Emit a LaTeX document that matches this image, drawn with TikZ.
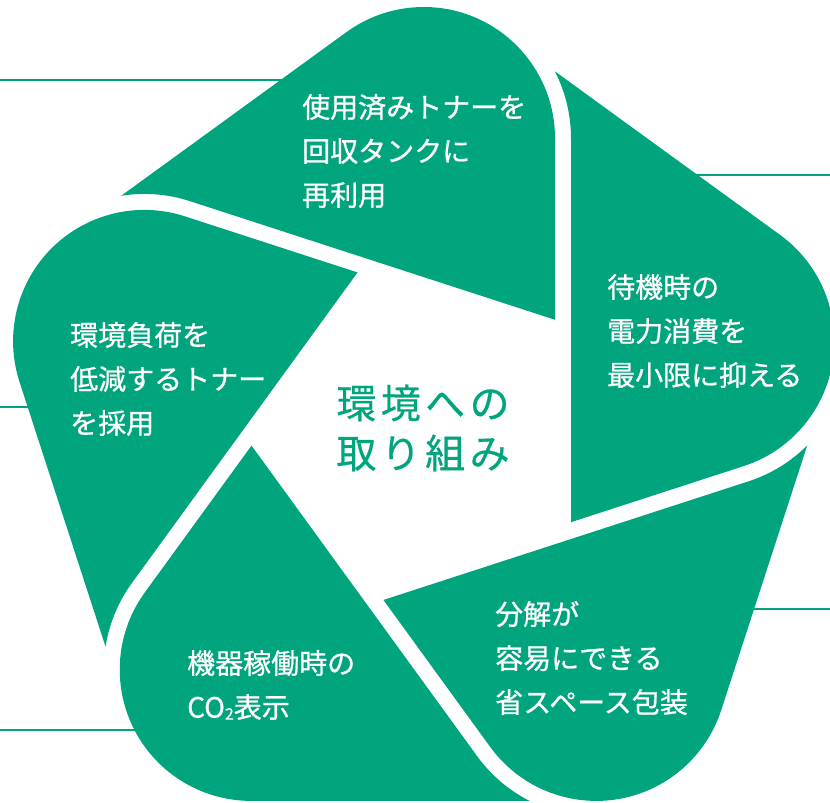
\documentclass[tikz,border=0pt]{standalone}
\usepackage{fontspec}
\setmainfont{Noto Sans CJK JP}
\definecolor{eco}{RGB}{0,165,125}
\begin{document}
\begin{tikzpicture}[x=1pt,y=1pt,
  petal/.style={fill=eco,draw=none},
  leader/.style={draw=eco,line width=2pt},
  petaltext/.style={text=white,align=left,anchor=west,inner sep=0pt,font=\fontsize{28pt}{44pt}\selectfont\addfontfeatures{FakeBold=0.8}},
  centertext/.style={text=eco,align=center,inner sep=0pt,font=\fontsize{40pt}{50pt}\selectfont\addfontfeatures{LetterSpace=11,FakeBold=0.5}}]
\useasboundingbox (-423.7,-371) rectangle (406.3,432);
% leader lines (behind the petals)
\coordinate (a0) at (-423.7,352); \coordinate (a1) at (-110,352);
\coordinate (b0) at (406.3,257);  \coordinate (b1) at (240,257);
\coordinate (c0) at (-423.7,25);  \coordinate (c1) at (-370,25);
\coordinate (d0) at (-423.7,-298); \coordinate (d1) at (-250,-298);
\coordinate (e0) at (406.3,-177); \coordinate (e1) at (296,-177);
\draw[leader] (a0) -- (a1);
\draw[leader] (b0) -- (b1);
\draw[leader] (c0) -- (c1);
\draw[leader] (d0) -- (d1);
\draw[leader] (e0) -- (e1);
% five blades
\foreach \k in {0,1,2,3,4}{
  \begin{scope}[rotate=72*\k]
    \fill[petal] (131.3,112.22) -- (131.3,293.7)
      arc[start angle=0,end angle=126,radius=131.3pt]
      -- (-302.47,236.23)
      arc[start angle=99.04,end angle=72,radius=147.3pt]
      -- cycle;
  \end{scope}
}
% texts
\node[petaltext] (t1) at (-121.7,281) {使用済みトナーを\\回収タンクに\\再利用};
\node[petaltext] (t2) at (-353.7,53) {環境負荷を\\低減するトナー\\を採用};
\node[petaltext] (t3) at (183.3,101) {待機時の\\電力消費を\\最小限に抑える};
\node[petaltext] (t4) at (71.3,-226) {分解が\\容易にできる\\省スペース包装};
\node[petaltext] (t5) at (-236.7,-253) {機器稼働時の\\CO\raisebox{-2pt}{\fontsize{16pt}{16pt}\selectfont 2}表示};
\node[centertext] (ctr) at (-0.7,4) {環境への\\取り組み};
\end{tikzpicture}
\end{document}
